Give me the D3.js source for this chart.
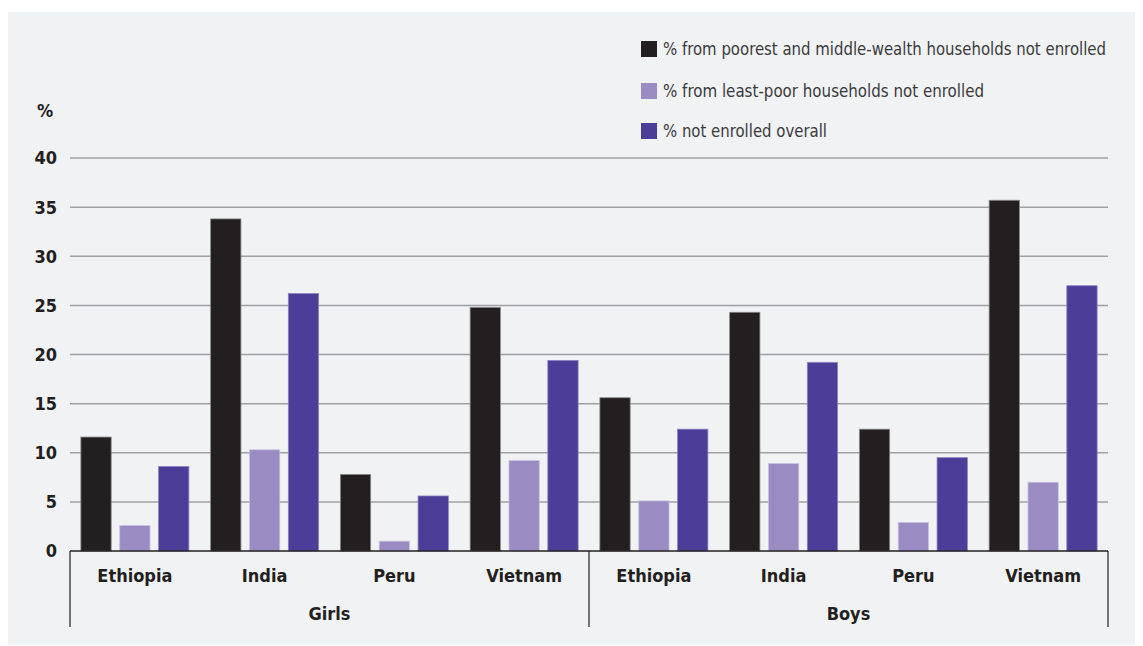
<!DOCTYPE html>
<html>
<head>
<meta charset="utf-8">
<script src="https://cdn.jsdelivr.net/npm/d3@7/dist/d3.min.js"></script>
<style>
html,body{margin:0;padding:0;background:#fff;}
svg{display:block;}
text{font-family:"DejaVu Sans Condensed","DejaVu Sans","Liberation Sans Narrow",sans-serif;font-stretch:condensed;}
</style>
</head>
<body>
<svg id="chart" width="1143" height="646"></svg>
<script>
const groups = ["Girls", "Boys"];
const countries = ["Ethiopia", "India", "Peru", "Vietnam"];
const seriesNames = [
  "% from poorest and middle-wealth households not enrolled",
  "% from least-poor households not enrolled",
  "% not enrolled overall"
];
const seriesColors = ["#231f20", "#9a8cc2", "#4b3d98"];
const seriesStrokes = ["#8a8a8a", "#c9c2e2", "#8d82c4"];
// values ordered Girls(Ethiopia, India, Peru, Vietnam), Boys(Ethiopia, India, Peru, Vietnam)
const poorestMiddle = [11.6, 33.8, 7.8, 24.8, 15.6, 24.3, 12.4, 35.7];
const leastPoor     = [2.6, 10.3, 1.0, 9.2, 5.1, 8.9, 2.9, 7.0];
const overall       = [8.6, 26.2, 5.6, 19.4, 12.4, 19.2, 9.5, 27.0];
const yTicks = [0, 5, 10, 15, 20, 25, 30, 35, 40];

const seriesValues = [poorestMiddle, leastPoor, overall];
const cats = [];
groups.forEach(g => countries.forEach(c => cats.push(g + "|" + c)));

const svg = d3.select("#chart");
svg.append("rect").attr("x", 8).attr("y", 12).attr("width", 1127).attr("height", 633).attr("fill", "#f1f2f4");

const x0 = 70, x1 = 1108, yBase = 551, yTop = 158;
const y = d3.scaleLinear().domain([0, 40]).range([yBase, yTop]);
const xCat = d3.scaleBand().domain(cats).range([x0, x1]).paddingInner(0).paddingOuter(0);
const xSer = d3.scaleBand().domain(d3.range(3)).range([0, xCat.bandwidth()]).paddingInner(0.22).paddingOuter(0.28);
const xGroup = d3.scaleBand().domain(groups).range([x0, x1]);

// gridlines
svg.append("g").selectAll("line").data(yTicks.filter(d => d > 0)).join("line")
  .attr("x1", x0).attr("x2", x1)
  .attr("y1", d => y(d)).attr("y2", d => y(d))
  .attr("stroke", "#a0a0a2").attr("stroke-width", 1.5);

// y tick labels
svg.append("g").selectAll("text").data(yTicks).join("text")
  .attr("x", 57).attr("y", d => y(d)).attr("dy", "0.36em")
  .attr("text-anchor", "end").attr("font-size", 18).attr("font-weight", "bold").attr("fill", "#231f20")
  .text(d => d);
svg.append("text").attr("x", 37).attr("y", 111).attr("dy", "0.36em")
  .attr("font-size", 18).attr("font-weight", "bold").attr("fill", "#231f20").text("%");

// bars
const barData = [];
cats.forEach((c, i) => seriesValues.forEach((vals, s) => barData.push({c, s, v: vals[i]})));
svg.append("g").selectAll("rect").data(barData).join("rect")
  .attr("x", d => xCat(d.c) + xSer(d.s))
  .attr("width", xSer.bandwidth())
  .attr("y", d => y(d.v))
  .attr("height", d => yBase - y(d.v))
  .attr("fill", d => seriesColors[d.s])
  .attr("stroke", d => seriesStrokes[d.s]).attr("stroke-width", 0.8);

// baseline
svg.append("line").attr("x1", x0).attr("x2", x1).attr("y1", yBase).attr("y2", yBase)
  .attr("stroke", "#231f20").attr("stroke-width", 1.5);
// group separators
const seps = [x0, xGroup("Boys"), x1];
svg.append("g").selectAll("line").data(seps).join("line")
  .attr("x1", d => d).attr("x2", d => d).attr("y1", yBase).attr("y2", 627)
  .attr("stroke", "#231f20").attr("stroke-width", 1.2);

// category labels
svg.append("g").selectAll("text").data(cats).join("text")
  .attr("x", d => xCat(d) + xCat.bandwidth() / 2).attr("y", 576).attr("dy", "0.36em")
  .attr("text-anchor", "middle").attr("font-size", 18).attr("font-weight", "bold").attr("fill", "#231f20")
  .text(d => d.split("|")[1]);
svg.append("g").selectAll("text").data(groups).join("text")
  .attr("x", d => xGroup(d) + xGroup.bandwidth() / 2).attr("y", 614).attr("dy", "0.36em")
  .attr("text-anchor", "middle").attr("font-size", 18).attr("font-weight", "bold").attr("fill", "#231f20")
  .text(d => d);

// legend
const leg = svg.append("g").attr("transform", "translate(641,0)");
const legY = [49, 91, 131];
const legW = [443, 321, 164];
const legItems = leg.selectAll("g").data(seriesNames).join("g")
  .attr("transform", (d, i) => `translate(0,${legY[i]})`);
legItems.append("rect").attr("x", 0).attr("y", -8).attr("width", 16).attr("height", 16)
  .attr("fill", (d, i) => seriesColors[i]);
legItems.append("text").attr("x", 22).attr("y", 0).attr("dy", "0.36em")
  .attr("font-size", 17.5).attr("fill", "#3a3a3c")
  .attr("textLength", (d, i) => legW[i]).attr("lengthAdjust", "spacingAndGlyphs")
  .text(d => d);
</script>
</body>
</html>
